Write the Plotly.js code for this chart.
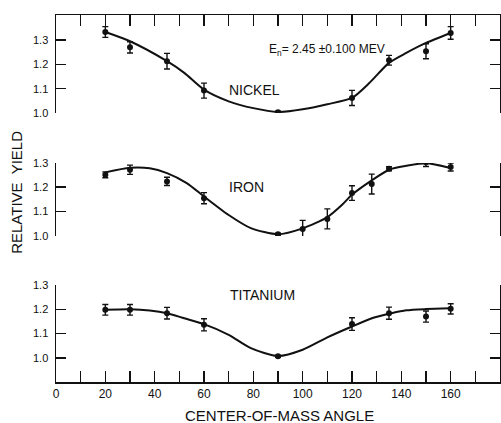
<!DOCTYPE html>
<html>
<head>
<meta charset="utf-8">
<script src="https://cdn.plot.ly/plotly-3.0.1.min.js"></script>
<style>
  html, body { margin: 0; padding: 0; background: #fff; }
  #chart { width: 501px; height: 423px; }
</style>
</head>
<body>
<div id="chart"></div>
<script>
// Measured angular distributions (centre-of-mass angle, degrees)
const nickelAngle = [20, 30, 45, 60, 90, 120, 135, 150, 160];
const nickelYield = [1.333, 1.270, 1.213, 1.092, 1.003, 1.062, 1.217, 1.254, 1.329];
const nickelError = [0.022, 0.023, 0.032, 0.031, 0.004, 0.031, 0.020, 0.031, 0.026];

const ironAngle = [20, 30, 45, 60, 90, 100, 110, 120, 128, 135, 150, 160];
const ironYield = [1.251, 1.272, 1.224, 1.155, 1.007, 1.028, 1.070, 1.176, 1.213, 1.276, 1.302, 1.283];
const ironError = [0.012, 0.019, 0.017, 0.023, 0.004, 0.036, 0.041, 0.030, 0.041, 0.008, 0.017, 0.016];

const titaniumAngle = [20, 30, 45, 60, 90, 120, 135, 150, 160];
const titaniumYield = [1.198, 1.198, 1.184, 1.136, 1.006, 1.139, 1.184, 1.170, 1.202];
const titaniumError = [0.022, 0.022, 0.024, 0.025, 0.004, 0.026, 0.025, 0.023, 0.021];

// Fitted curves through each distribution
const nickelFitAngle = [20, 30, 45, 52, 60, 70, 80, 90, 100, 110, 120, 127, 135, 142, 150, 160];
const nickelFitYield = [1.333, 1.295, 1.213, 1.165, 1.096, 1.048, 1.020, 1.004, 1.015, 1.036, 1.062, 1.123, 1.206, 1.247, 1.288, 1.329];

const ironFitAngle = [20, 30, 38, 45, 53, 60, 70, 79, 90, 100, 110, 116, 120, 128, 135, 142, 150, 160];
const ironFitYield = [1.261, 1.280, 1.278, 1.258, 1.217, 1.162, 1.086, 1.032, 1.007, 1.031, 1.077, 1.128, 1.169, 1.228, 1.272, 1.288, 1.299, 1.279];

const titaniumFitAngle = [20, 30, 38, 45, 52, 60, 70, 79, 90, 100, 110, 120, 129, 136, 142, 150, 160];
const titaniumFitYield = [1.198, 1.200, 1.195, 1.184, 1.163, 1.139, 1.095, 1.040, 1.007, 1.033, 1.084, 1.129, 1.166, 1.184, 1.196, 1.201, 1.204];

// Axis ticks
const angleTicks = [0, 10, 20, 30, 40, 50, 60, 70, 80, 90, 100, 110, 120, 130, 140, 150, 160, 170];
const angleTickText = ['0', '', '20', '', '40', '', '60', '', '80', '', '100', '', '120', '', '140', '', '160', ''];
const yieldTicks = [1.0, 1.1, 1.2, 1.3];
const yieldTickText = ['1.0', '1.1', '1.2', '1.3'];

const FONT = 'Liberation Sans, Arial, sans-serif';
const INK = '#111';

function points(x, y, err, xaxis, yaxis) {
  return {
    x: x, y: y, xaxis: xaxis, yaxis: yaxis, type: 'scatter', mode: 'markers',
    marker: { color: INK, size: 6 },
    error_y: { type: 'data', array: err, visible: true, color: INK, thickness: 1.4, width: 3 },
    hoverinfo: 'x+y', showlegend: false
  };
}
function fit(x, y, xaxis, yaxis) {
  return {
    x: x, y: y, xaxis: xaxis, yaxis: yaxis, type: 'scatter', mode: 'lines',
    line: { color: INK, width: 2, shape: 'spline', smoothing: 0.7 },
    hoverinfo: 'skip', showlegend: false
  };
}

const traces = [
  fit(nickelFitAngle, nickelFitYield, 'x2', 'y'),
  points(nickelAngle, nickelYield, nickelError, 'x2', 'y'),
  fit(ironFitAngle, ironFitYield, 'x', 'y2'),
  points(ironAngle, ironYield, ironError, 'x', 'y2'),
  fit(titaniumFitAngle, titaniumFitYield, 'x', 'y3'),
  points(titaniumAngle, titaniumYield, titaniumError, 'x', 'y3')
];

// Left axis with labels; mirrored line + ticks give the right-hand edge
function yieldAxis(domain, range, anchor) {
  return {
    domain: domain, range: range, anchor: anchor, side: 'left',
    showline: true, linecolor: INK, linewidth: 1.5, mirror: 'ticks',
    ticks: 'inside', ticklen: 10, tickwidth: 1.5, tickcolor: INK,
    tickvals: yieldTicks, ticktext: yieldTickText,
    tickfont: { family: FONT, size: 11, color: INK },
    ticklabelstandoff: 4,
    showgrid: false, zeroline: false, fixedrange: true
  };
}

const topRange = [1.0, 1.403];
const midRange = [1.0, 1.3];
const lowRange = [0.9, 1.3];

const layout = {
  width: 501, height: 423,
  margin: { l: 56, r: 1, t: 15, b: 41 },
  paper_bgcolor: '#fff', plot_bgcolor: 'rgba(0,0,0,0)',
  font: { family: FONT, color: INK },
  xaxis: {
    domain: [0, 1], range: [0, 180], anchor: 'y3', side: 'bottom',
    showline: true, linecolor: INK, linewidth: 1.5,
    ticks: 'inside', ticklen: 11, tickwidth: 1.5, tickcolor: INK,
    tickvals: angleTicks, ticktext: angleTickText,
    tickfont: { family: FONT, size: 12, color: INK },
    showgrid: false, zeroline: false, fixedrange: true
  },
  xaxis2: {
    domain: [0, 1], range: [0, 180], anchor: 'y', side: 'top',
    showline: true, linecolor: INK, linewidth: 1.5,
    ticks: 'inside', ticklen: 11, tickwidth: 1.5, tickcolor: INK,
    tickvals: angleTicks, showticklabels: false,
    showgrid: false, zeroline: false, fixedrange: true
  },
  yaxis: yieldAxis([0.733, 1], topRange, 'x2'),
  yaxis2: yieldAxis([0.398, 0.597], midRange, 'x'),
  yaxis3: yieldAxis([0, 0.264], lowRange, 'x'),
  annotations: [
    { text: 'NICKEL', xref: 'paper', yref: 'paper', x: 0.446, y: 0.823,
      showarrow: false, font: { family: FONT, size: 14, color: INK } },
    { text: 'IRON', xref: 'paper', yref: 'paper', x: 0.428, y: 0.531,
      showarrow: false, font: { family: FONT, size: 14, color: INK } },
    { text: 'TITANIUM', xref: 'paper', yref: 'paper', x: 0.466, y: 0.210,
      showarrow: false, font: { family: FONT, size: 14, color: INK } },
    { text: 'E<sub>n</sub>= 2.45 ±0.100 MEV', xref: 'paper', yref: 'paper',
      x: 0.475, y: 0.932, xanchor: 'left', showarrow: false,
      font: { family: FONT, size: 12, color: INK } },
    { text: 'RELATIVE  YIELD', xref: 'paper', yref: 'paper', x: -0.088, y: 0.518,
      xanchor: 'center', yanchor: 'middle',
      textangle: -90, showarrow: false, font: { family: FONT, size: 15, color: INK } },
    { text: 'CENTER-OF-MASS ANGLE', xref: 'paper', yref: 'paper', x: 0.5045, y: -0.09,
      yanchor: 'middle', showarrow: false, font: { family: FONT, size: 15, color: INK } }
  ]
};

Plotly.newPlot('chart', traces, layout, { staticPlot: true, displayModeBar: false });
</script>
</body>
</html>
